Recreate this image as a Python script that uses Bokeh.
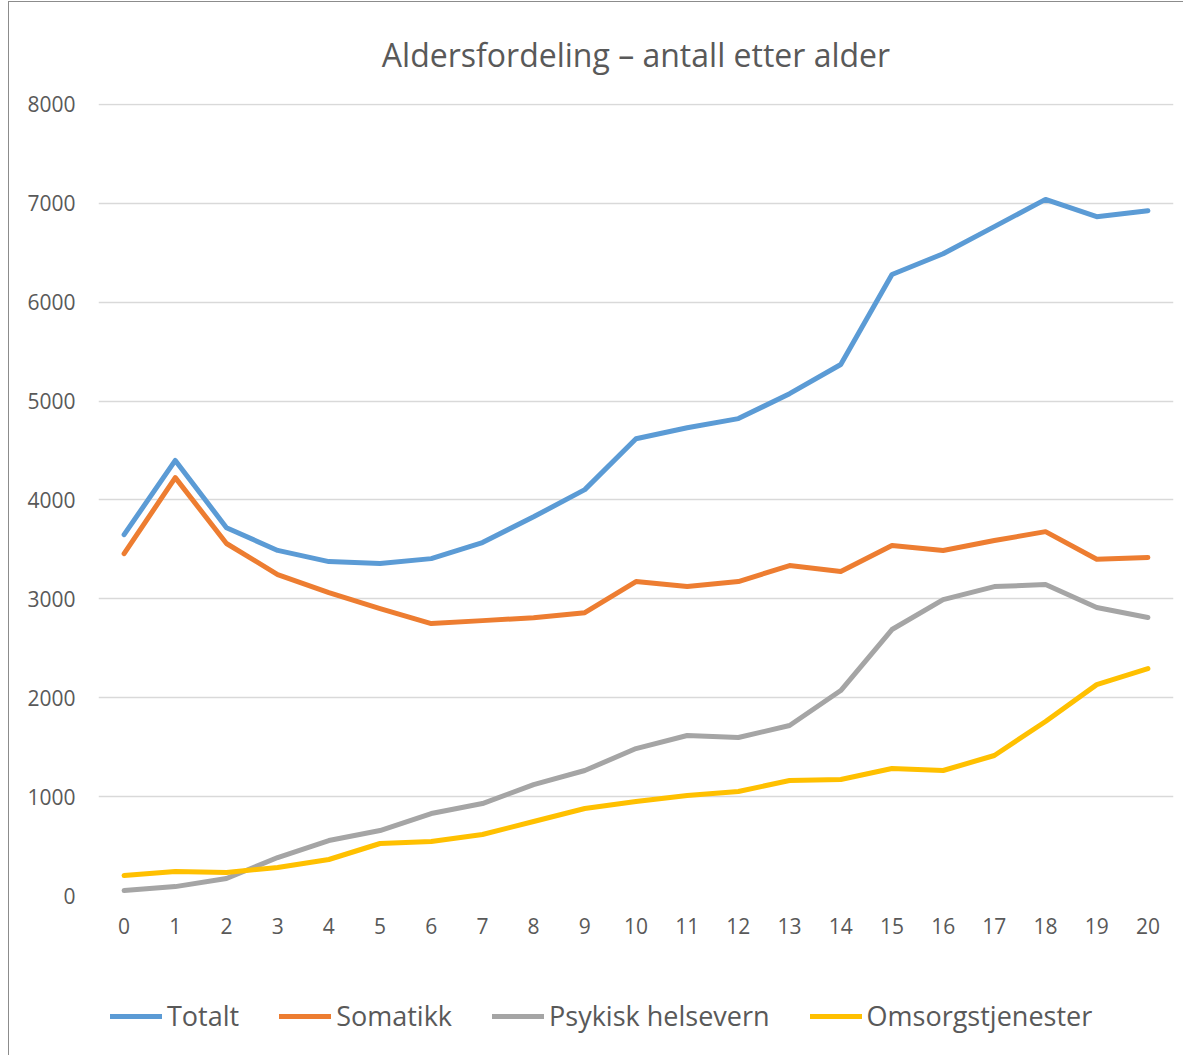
from bokeh.plotting import figure
from bokeh.models import Range1d, FixedTicker, Legend, LegendItem
from bokeh.layouts import column
from bokeh.embed import file_html
from bokeh.resources import INLINE

ages = list(range(21))
age_labels = [str(a) for a in ages]
totalt = [3650, 4400, 3720, 3490, 3377, 3357, 3407, 3570, 3830, 4105, 4620,
          4730, 4823, 5075, 5370, 6280, 6490, 6765, 7040, 6865, 6925]
somatikk = [3458, 4226, 3560, 3246, 3064, 2902, 2750, 2780, 2810, 2860, 3175,
            3124, 3175, 3337, 3276, 3540, 3490, 3590, 3680, 3400, 3418]
psykisk = [50, 90, 172, 384, 556, 657, 829, 930, 1122, 1264, 1486,
           1618, 1598, 1719, 2073, 2690, 2993, 3124, 3145, 2912, 2811]
omsorg = [202, 243, 233, 283, 364, 526, 546, 617, 748, 880, 950,
          1011, 1052, 1163, 1173, 1284, 1264, 1416, 1760, 2133, 2295]
y_ticks = [0, 1000, 2000, 3000, 4000, 5000, 6000, 7000, 8000]

series = [("Totalt", totalt, "#5B9BD5"),
          ("Somatikk", somatikk, "#ED7D31"),
          ("Psykisk helsevern", psykisk, "#A5A5A5"),
          ("Omsorgstjenester", omsorg, "#FFC000")]

FONT = "Open Sans"
TXT = "#595959"

p = figure(frame_width=1075, frame_height=792, output_backend="svg", toolbar_location=None,
           x_range=Range1d(-0.5, 20.5), y_range=Range1d(0, 8010),
           min_border_left=89, min_border_right=10, min_border_top=101,
           min_border_bottom=60, title="Aldersfordeling – antall etter alder")
p.title.align = "center"
p.title.text_font = FONT
p.title.text_font_size = "32px"
p.title.text_font_style = "normal"
p.title.text_color = TXT
p.title.offset = 0
p.title.standoff = 55

p.outline_line_color = None
p.xgrid.grid_line_color = None
p.ygrid.grid_line_color = "#D9D9D9"
p.ygrid.grid_line_width = 1.5

p.xaxis.ticker = FixedTicker(ticks=ages)
p.xaxis.major_label_overrides = {a: l for a, l in zip(ages, age_labels)}
p.yaxis.ticker = FixedTicker(ticks=y_ticks)
for ax in (p.xaxis, p.yaxis):
    ax.axis_line_color = None
    ax.major_tick_line_color = None
    ax.minor_tick_line_color = None
    ax.major_label_text_font = FONT
    ax.major_label_text_font_size = "21px"
    ax.major_label_text_color = TXT
p.yaxis.major_label_standoff = 17
p.xaxis.major_label_standoff = 16

for name, vals, col in series:
    p.line(ages, vals, line_color=col, line_width=5, line_cap="round", line_join="round")

# legend strip below the chart (its series lie outside its visible ranges)
leg = figure(width=1174, height=100, output_backend="svg", toolbar_location=None,
             x_axis_location=None, y_axis_location=None,
             x_range=Range1d(100, 101), y_range=Range1d(100000, 100001),
             min_border=0, min_border_left=0, min_border_right=0,
             min_border_top=0, min_border_bottom=0)
leg.outline_line_color = None
leg.xgrid.visible = False
leg.ygrid.visible = False
items = []
for name, vals, col in series:
    r = leg.line(ages, vals, line_color=col, line_width=5, line_cap="round")
    items.append(LegendItem(label=name, renderers=[r]))
legend = Legend(items=items, orientation="horizontal", location=(12, 21),
                label_text_font=FONT, label_text_font_size="27px", label_text_color=TXT,
                glyph_width=52, glyph_height=20, spacing=40, label_standoff=5,
                border_line_color=None, background_fill_alpha=0, margin=0, padding=0)
leg.add_layout(legend, "center")

layout = column(p, leg, spacing=0)
layout.styles = {"border-left": "1px solid #8c8c8c", "border-top": "1px solid #8c8c8c",
                 "margin-left": "8px", "margin-top": "1px"}

open("out.html", "w").write(file_html(layout, INLINE))
